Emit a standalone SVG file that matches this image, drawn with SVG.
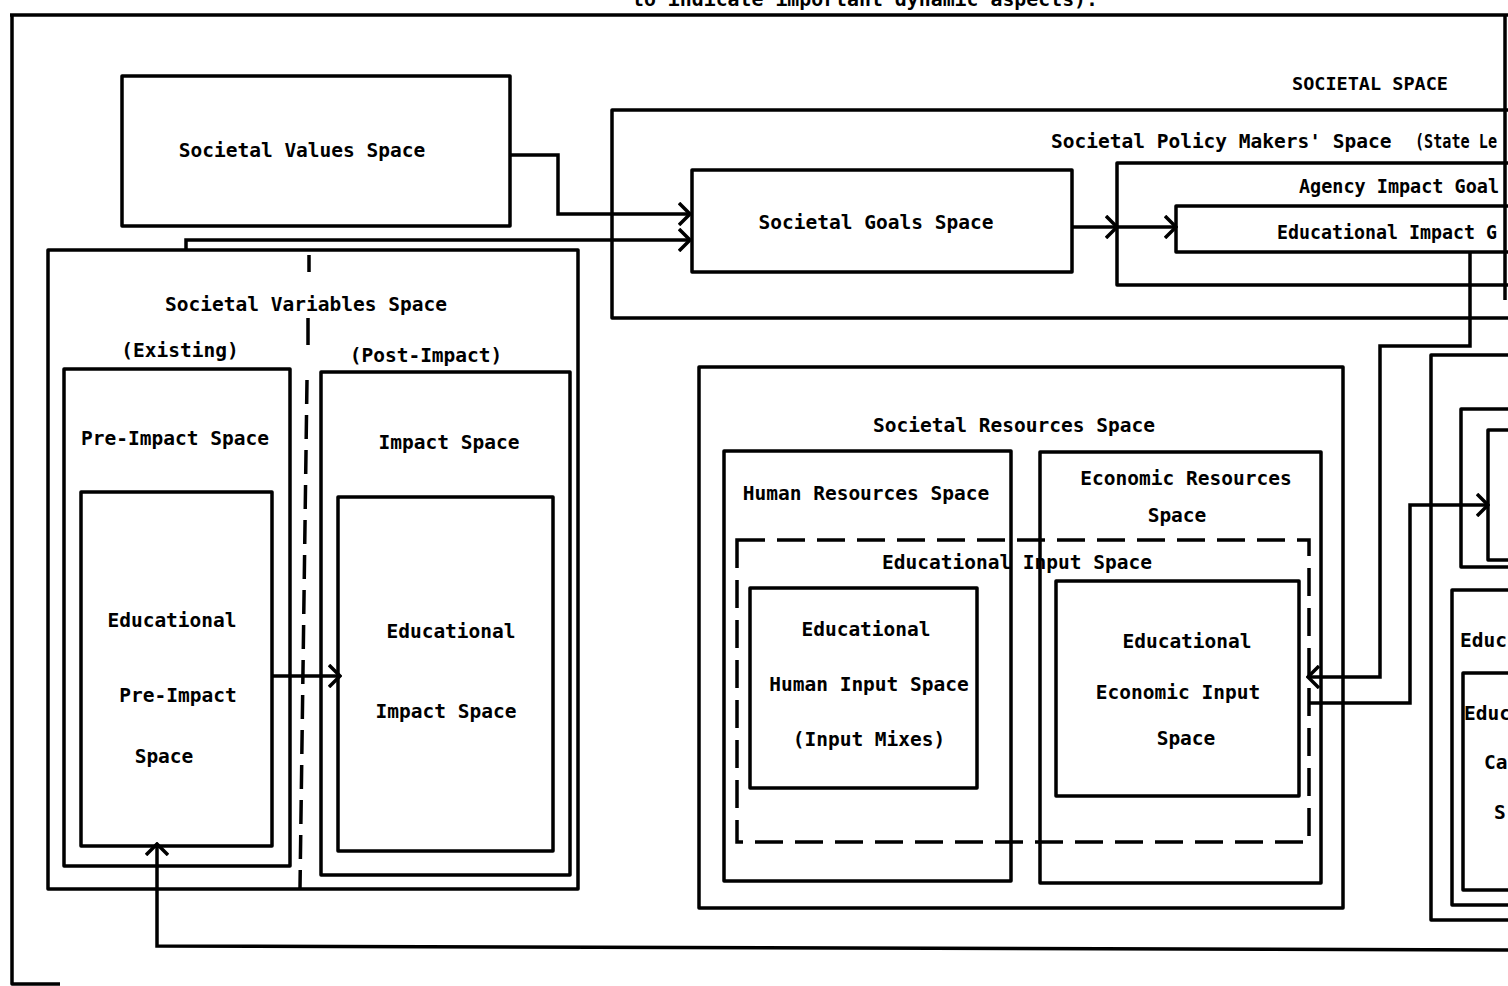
<svg xmlns="http://www.w3.org/2000/svg" width="1508" height="986" viewBox="0 0 1508 986">
<defs>
<style>
.b{fill:none;stroke:#000;stroke-width:3.5;stroke-linejoin:round}
.d{fill:none;stroke:#000;stroke-width:3.5;stroke-dasharray:28 12}
.c{fill:none;stroke:#000;stroke-width:3.5;stroke-linejoin:miter}
text{font-family:"DejaVu Sans Mono","Liberation Mono",monospace;font-weight:bold;font-size:19.5px;fill:#000}
.m{text-anchor:middle}
.caps{font-size:18.5px}
</style>
<marker id="ah" markerUnits="userSpaceOnUse" viewBox="0 0 14 24" markerWidth="14" markerHeight="24" refX="12" refY="12" orient="auto">
<path d="M1,1 L12,12 L1,23" fill="none" stroke="#000" stroke-width="3.5"/>
</marker>
</defs>
<rect width="1508" height="986" fill="#fff"/>

<g id="frame">
<path class="b" d="M10,15 L1508,15"/>
<path class="b" d="M12,15 L12,984 L60,984"/>
<text x="632" y="6" textLength="466" lengthAdjust="spacingAndGlyphs">to indicate important dynamic aspects).</text>
</g>

<g id="societal-space">
<text class="m caps" x="1370" y="90">SOCIETAL SPACE</text>
<path class="b" d="M1505,15 L1505,300"/>
</g>

<g id="societal-values">
<rect class="b" x="122" y="76" width="388" height="150"/>
<text class="m" x="302" y="157">Societal Values Space</text>
</g>

<g id="policy-makers">
<path class="b" d="M1512,110 L612,110 L612,318 L1512,318"/>
<text x="1051" y="148">Societal Policy Makers' Space</text>
<text x="1415" y="148" textLength="82" lengthAdjust="spacingAndGlyphs">(State Le</text>
</g>

<g id="societal-goals">
<rect class="b" x="692" y="170" width="380" height="102"/>
<text class="m" x="876" y="229">Societal Goals Space</text>
</g>

<g id="agency-goals">
<path class="b" d="M1512,163 L1117,163 L1117,285 L1512,285"/>
<text x="1299" y="193" textLength="200" lengthAdjust="spacingAndGlyphs">Agency Impact Goal</text>
</g>

<g id="educational-goals">
<path class="b" d="M1512,206 L1176,206 L1176,252 L1512,252"/>
<text x="1277" y="239" textLength="220" lengthAdjust="spacingAndGlyphs">Educational Impact G</text>
</g>

<g id="societal-variables">
<rect class="b" x="48" y="250" width="530" height="639"/>
<text class="m" x="306" y="311">Societal  Variables Space</text>
<path class="b" d="M309,255 L309,272 M308,318 L308,345"/>
<path class="b" d="M307,380 L300,888" stroke-dasharray="24 11"/>
<text class="m" x="180" y="357">(Existing)</text>
<text class="m" x="426" y="362">(Post-Impact)</text>
</g>

<g id="pre-impact">
<rect class="b" x="64" y="369" width="226" height="497"/>
<text class="m" x="175" y="445">Pre-Impact Space</text>
</g>

<g id="edu-pre-impact">
<rect class="b" x="81" y="492" width="191" height="354"/>
<text class="m" x="172" y="627">Educational</text>
<text class="m" x="178" y="702">Pre-Impact</text>
<text class="m" x="164" y="763">Space</text>
</g>

<g id="impact">
<rect class="b" x="321" y="372" width="249" height="503"/>
<text class="m" x="449" y="449">Impact Space</text>
</g>

<g id="edu-impact">
<rect class="b" x="338" y="497" width="215" height="354"/>
<text class="m" x="451" y="638">Educational</text>
<text class="m" x="446" y="718">Impact Space</text>
</g>

<g id="societal-resources">
<rect class="b" x="699" y="367" width="644" height="541"/>
<text class="m" x="1014" y="432">Societal Resources Space</text>
</g>

<g id="human-resources">
<rect class="b" x="724" y="451" width="287" height="430"/>
<text class="m" x="866" y="500">Human Resources Space</text>
</g>

<g id="economic-resources">
<rect class="b" x="1040" y="452" width="281" height="431"/>
<text class="m" x="1186" y="485">Economic Resources</text>
<text class="m" x="1177" y="522">Space</text>
</g>

<g id="edu-input">
<rect class="d" x="737" y="540" width="572" height="302"/>
<text class="m" x="1017" y="569">Educational  Input Space</text>
</g>

<g id="edu-human-input">
<rect class="b" x="750" y="588" width="227" height="200"/>
<text class="m" x="866" y="636">Educational</text>
<text class="m" x="869" y="691">Human Input Space</text>
<text class="m" x="869" y="746">(Input Mixes)</text>
</g>

<g id="edu-economic-input">
<rect class="b" x="1056" y="581" width="243" height="215"/>
<text class="m" x="1187" y="648">Educational</text>
<text class="m" x="1178" y="699">Economic Input</text>
<text class="m" x="1186" y="745">Space</text>
</g>

<g id="right-outer">
<path class="b" d="M1512,355 L1431,355 L1431,920 L1512,920"/>
</g>
<g id="right-upper">
<path class="b" d="M1512,409 L1461,409 L1461,567 L1512,567"/>
<path class="b" d="M1512,430 L1488,430 L1488,560 L1512,560"/>
</g>
<g id="right-lower">
<path class="b" d="M1512,590 L1452,590 L1452,905 L1512,905"/>
<text x="1460" y="647">Educ</text>
</g>
<g id="right-lower-inner">
<path class="b" d="M1512,673 L1463,673 L1463,890 L1512,890"/>
<text x="1464" y="720">Educ</text>
<text x="1484" y="769">Ca</text>
<text x="1494" y="819">S</text>
</g>

<g id="connectors">
<path class="c" d="M510,155 L558,155 L558,214 L690,214" marker-end="url(#ah)"/>
<path class="c" d="M186,250 L186,240 L690,240" marker-end="url(#ah)"/>
<path class="c" d="M1072,227 L1117,227" marker-end="url(#ah)"/>
<path class="c" d="M1117,227 L1176,227" marker-end="url(#ah)"/>
<path class="c" d="M1470,252 L1470,346 L1380,346 L1380,677 L1308,677" marker-end="url(#ah)"/>
<path class="c" d="M1308,703 L1410,703 L1410,505 L1488,505" marker-end="url(#ah)"/>
<path class="c" d="M272,676 L340,676" marker-end="url(#ah)"/>
<path class="c" d="M1512,950 L157,946 L157,844" marker-end="url(#ah)"/>
</g>
</svg>
